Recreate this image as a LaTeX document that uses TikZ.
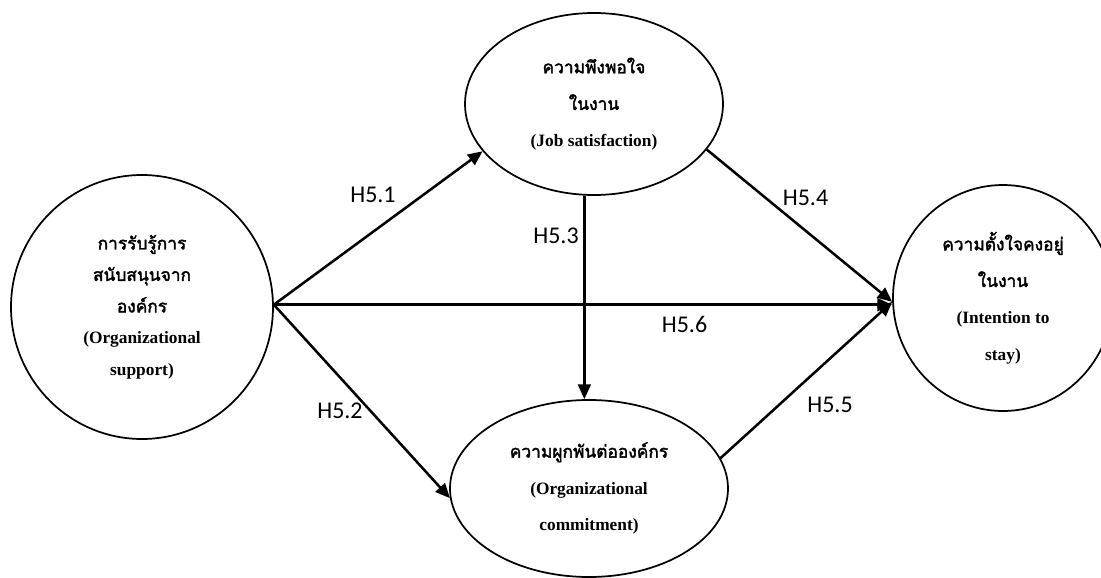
\documentclass[tikz,border=0pt]{standalone}
\usepackage{fontspec}
\usetikzlibrary{arrows.meta,shapes.geometric}
\setmainfont{Liberation Serif}
\newfontfamily\thaifont[Script=Thai,AutoFakeBold=2.2]{Loma}
\newfontfamily\labelfont{Carlito}
\newcommand{\thaitext}[1]{{\thaifont\bfseries #1}}
\begin{document}
\begin{tikzpicture}[x=0.75pt,y=-0.75pt,
  construct/.style={draw,line width=1.3pt,shape=ellipse,inner sep=0pt,align=center,
    font=\bfseries\fontsize{13}{27.5}\selectfont},
  path arrow/.style={line width=1.9pt,-{Triangle[length=11pt,width=9.5pt]}},
  hyp/.style={font=\labelfont\fontsize{18}{20}\selectfont,inner sep=0pt}]
\useasboundingbox (0,0) rectangle (1101,578);

% latent constructs
\node[construct,minimum width=196.5pt,minimum height=198pt,
  font=\bfseries\fontsize{13}{23.6}\selectfont] (org) at (142,307)
  {\thaitext{การรับรู้การ}\\\thaitext{สนับสนุนจาก}\\\thaitext{องค์กร}\\(Organizational\\support)};
\node[construct,minimum width=193.5pt,minimum height=136.5pt] (job) at (594,104)
  {\thaitext{ความพึงพอใจ}\\\thaitext{ในงาน}\\(Job satisfaction)};
\node[construct,minimum width=208.5pt,minimum height=132.75pt] (com) at (589,488.5)
  {\thaitext{ความผูกพันต่อองค์กร}\\(Organizational\\commitment)};
\node[construct,minimum width=165pt,minimum height=169.5pt] (stay) at (1003,298)
  {\thaitext{ความตั้งใจคงอยู่}\\\thaitext{ในงาน}\\(Intention to\\stay)};

% hypothesised paths
\draw[path arrow] (org.1) -- (job.203);
\draw[path arrow] (org.1) -- (com.184);
\draw[path arrow] (org.1) -- (org.1 -| stay.west);
\draw[path arrow] (job.264) -- (job.264 |- com.north);
\draw[path arrow] (job.-22) -- (stay.182);
\draw[path arrow] (com.13) -- (stay.182);

% path labels
\node[hyp] (h51) at (373,195) {H5.1};
\node[hyp] (h52) at (340,411) {H5.2};
\node[hyp] (h53) at (556,236) {H5.3};
\node[hyp] (h54) at (805.5,198) {H5.4};
\node[hyp] (h56) at (684.5,324) {H5.6};
\node[hyp] (h55) at (830,405) {H5.5};
\end{tikzpicture}
\end{document}
